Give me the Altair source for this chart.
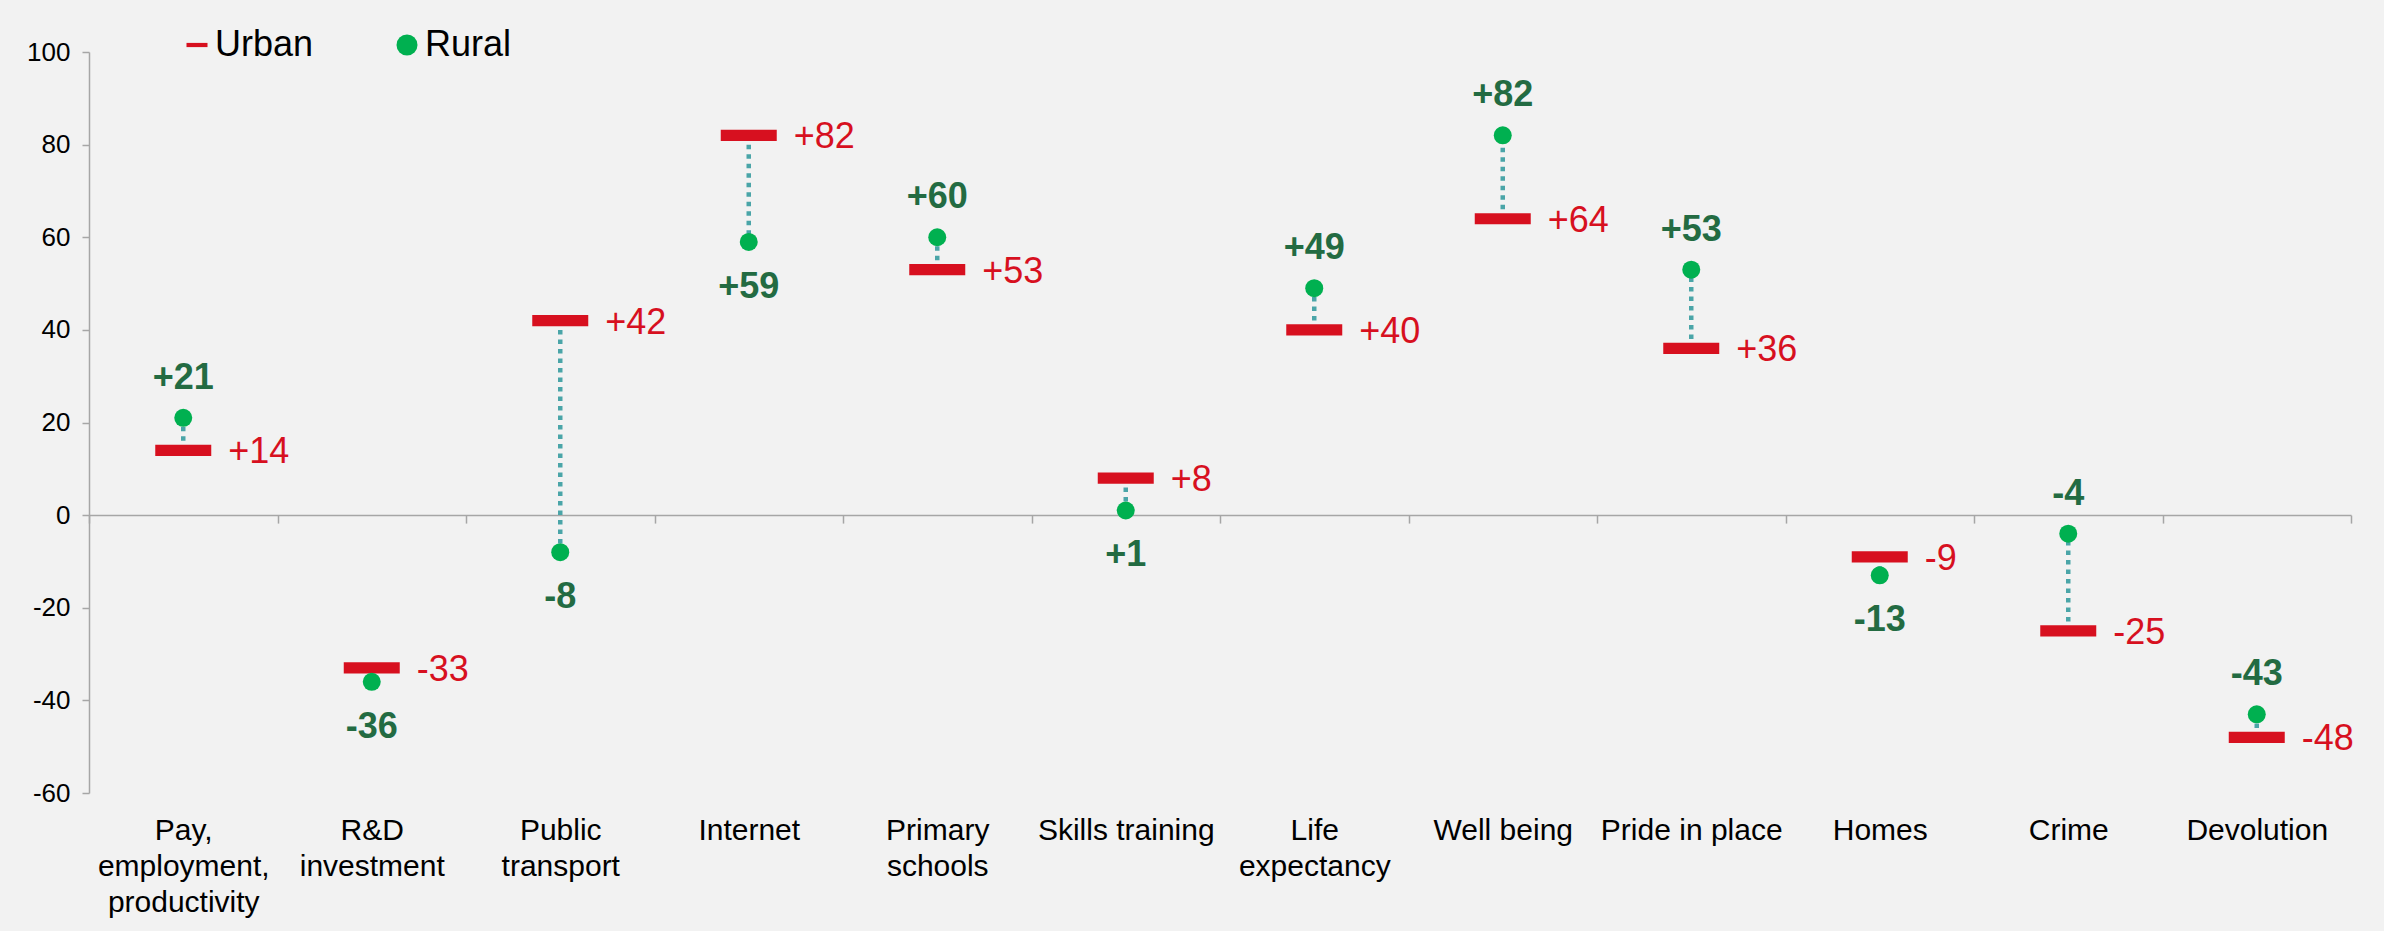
import json

import altair as alt
import pandas as pd

# Change in outcome scores by area type
categories = [
    "Pay, employment, productivity", "R&D investment", "Public transport",
    "Internet", "Primary schools", "Skills training", "Life expectancy",
    "Well being", "Pride in place", "Homes", "Crime", "Devolution",
]
label_lines = [
    ["Pay,", "employment,", "productivity"], ["R&D", "investment"],
    ["Public", "transport"], ["Internet"], ["Primary", "schools"],
    ["Skills training"], ["Life", "expectancy"], ["Well being"],
    ["Pride in place"], ["Homes"], ["Crime"], ["Devolution"],
]
urban = [14, -33, 42, 82, 53, 8, 40, 64, 36, -9, -25, -48]
rural = [21, -36, -8, 59, 60, 1, 49, 82, 53, -13, -4, -43]
series = ["Urban", "Rural"]
y_ticks = [-60, -40, -20, 0, 20, 40, 60, 80, 100]

RED = "#d7101f"
GREEN = "#00b050"
DARK_GREEN = "#236b42"
TEAL = "#4aa5a8"
AXIS_GREY = "#a6a6a6"
FONT = "Liberation Sans"
DASH_SHAPE = "M-1,-0.2L1,-0.2L1,0.2L-1,0.2Z"

wide = pd.DataFrame({"category": categories, "urban": urban, "rural": rural})
long = pd.DataFrame({
    "category": categories * 2,
    "series": ["Urban"] * len(categories) + ["Rural"] * len(categories),
    "value": urban + rural,
})

label_map = json.dumps(dict(zip(categories, label_lines)))

x_enc = alt.X(
    "category:N",
    sort=categories,
    scale=alt.Scale(paddingInner=0, paddingOuter=0),
    axis=alt.Axis(
        title=None,
        offset=-277.9,
        domainColor=AXIS_GREY,
        domainWidth=1.5,
        tickColor=AXIS_GREY,
        tickWidth=1.5,
        tickSize=8,
        tickBand="extent",
        labelAngle=0,
        labelFont=FONT,
        labelFontSize=30,
        labelColor="black",
        labelLineHeight=36,
        labelPadding=292,
        labelOverlap=False,
        labelLimit=400,
        labelExpr=f"({label_map})[datum.value]",
    ),
)

y_scale = alt.Scale(domain=[-60, 100], nice=False, zero=False)
y_axis = alt.Axis(
    title=None,
    values=y_ticks,
    grid=False,
    domainColor=AXIS_GREY,
    domainWidth=1.5,
    tickColor=AXIS_GREY,
    tickWidth=1.5,
    tickSize=7,
    labelFont=FONT,
    labelFontSize=26,
    labelColor="black",
    labelPadding=12,
    labelExpr="toString(datum.value)",
)

# signed text for the value labels, e.g. "+14" / "-33"
signed_urban = "(datum.urban > 0 ? '+' : '') + toString(datum.urban)"
signed_rural = "(datum.rural > 0 ? '+' : '') + toString(datum.rural)"

# dotted connector between the urban and rural values
connector = alt.Chart(wide).mark_rule(
    color=TEAL, strokeWidth=4.5, strokeDash=[4.5, 5]
).encode(
    x=x_enc,
    y=alt.Y("urban:Q", scale=y_scale, axis=y_axis),
    y2="rural:Q",
)

legend = alt.Legend(
    title=None,
    orient="none",
    legendX=90,
    legendY=-25,
    direction="horizontal",
    padding=0,
    symbolSize=441,
    labelFont=FONT,
    labelFontSize=36,
    labelColor="black",
    labelOffset=0,
    columnPadding=75,
)

points = alt.Chart(long).mark_point(filled=True, opacity=1).encode(
    x=x_enc,
    y=alt.Y("value:Q", scale=y_scale, axis=y_axis),
    color=alt.Color("series:N", scale=alt.Scale(domain=series, range=[RED, GREEN]), legend=legend),
    shape=alt.Shape("series:N", scale=alt.Scale(domain=series, range=[DASH_SHAPE, "circle"]), legend=legend),
    size=alt.condition(alt.datum.series == "Urban", alt.value(3136), alt.value(324)),
)

urban_labels = alt.Chart(wide).transform_calculate(
    label=signed_urban
).mark_text(
    align="left", baseline="middle", dx=45, dy=2,
    font=FONT, fontSize=36, color=RED,
).encode(
    x=x_enc,
    y=alt.Y("urban:Q", scale=y_scale, axis=y_axis),
    text="label:N",
)

rural_above = alt.Chart(wide).transform_filter(
    alt.datum.rural > alt.datum.urban
).transform_calculate(
    label=signed_rural
).mark_text(
    align="center", baseline="alphabetic", dy=-29,
    font=FONT, fontSize=36, fontWeight="bold", color=DARK_GREEN,
).encode(
    x=x_enc,
    y=alt.Y("rural:Q", scale=y_scale, axis=y_axis),
    text="label:N",
)

rural_below = alt.Chart(wide).transform_filter(
    alt.datum.rural <= alt.datum.urban
).transform_calculate(
    label=signed_rural
).mark_text(
    align="center", baseline="alphabetic", dy=56,
    font=FONT, fontSize=36, fontWeight="bold", color=DARK_GREEN,
).encode(
    x=x_enc,
    y=alt.Y("rural:Q", scale=y_scale, axis=y_axis),
    text="label:N",
)

chart = alt.layer(
    connector, points, urban_labels, rural_above, rural_below
).properties(
    width=2262,
    height=741,
    padding={"left": 89, "top": 52, "right": 33, "bottom": 138},
    autosize=alt.AutoSizeParams(type="none"),
    background="#f2f2f2",
).configure_view(stroke=None)

chart.save("out.html", embed_options={"renderer": "svg", "actions": False})
